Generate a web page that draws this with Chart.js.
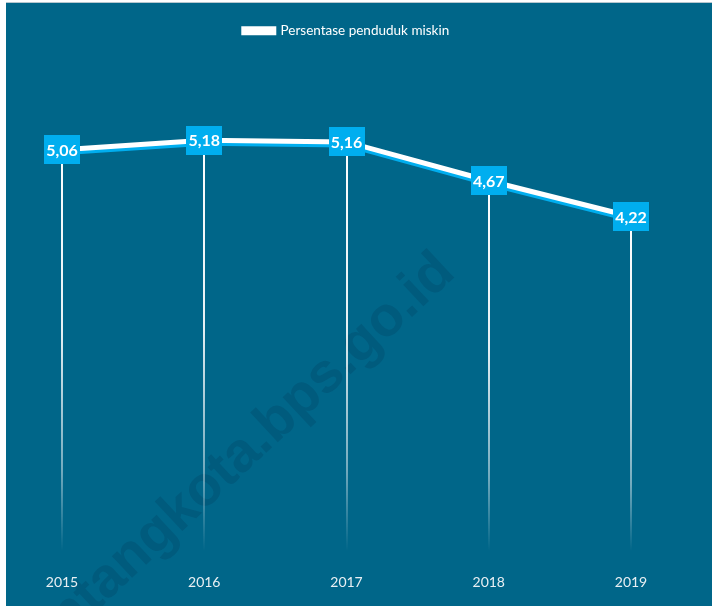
<!DOCTYPE html>
<html>
<head>
<meta charset="utf-8">
<script src="https://cdn.jsdelivr.net/npm/chart.js@4.4.1/dist/chart.umd.min.js"></script>
<style>
    html, body { margin: 0; padding: 0; background: #fff; }
    body { width: 712px; height: 606px; position: relative; overflow: hidden; }
    .topline { position: absolute; left: 6px; top: 2px; width: 706px; height: 1px; background: #b7c7cf; }
    .wrap { position: absolute; left: 6px; top: 3px; width: 706px; height: 603px; background: #006689; }
</style>
</head>
<body>
<div class="topline"></div>
<div class="wrap"><canvas id="povertyChart" width="706" height="603"></canvas></div>
<script>
// Data
const years = ['2015', '2016', '2017', '2018', '2019'];
const povertyRate = [5.06, 5.18, 5.16, 4.67, 4.22];
const seriesName = 'Persentase penduduk miskin';
const watermarkText = 'bontangkota.bps.go.id';

const fmt = v => v.toFixed(2).replace('.', ',');

// watermark behind everything
const watermark = {
    id: 'watermark',
    beforeDraw(chart) {
        const ctx = chart.ctx;
        ctx.save();
        ctx.translate(451, 272);
        ctx.rotate(-43 * Math.PI / 180);
        ctx.font = 'bold 56px "Liberation Sans", Arial, sans-serif';
        ctx.fillStyle = '#005b7d';
        ctx.textAlign = 'right';
        ctx.textBaseline = 'alphabetic';
        ctx.fillText(watermarkText, 0, 0);
        ctx.restore();
    }
};

// fading drop lines from each point to the bottom
const dropLines = {
    id: 'dropLines',
    beforeDatasetsDraw(chart) {
        const ctx = chart.ctx;
        const area = chart.chartArea;
        const meta = chart.getDatasetMeta(0);
        ctx.save();
        meta.data.forEach(pt => {
            const grad = ctx.createLinearGradient(0, pt.y, 0, area.bottom);
            grad.addColorStop(0, 'rgba(255,255,255,1)');
            grad.addColorStop(0.45, 'rgba(255,255,255,0.9)');
            grad.addColorStop(0.8, 'rgba(255,255,255,0.45)');
            grad.addColorStop(1, 'rgba(255,255,255,0)');
            ctx.strokeStyle = grad;
            ctx.lineWidth = 2;
            ctx.beginPath();
            ctx.moveTo(Math.round(pt.x), pt.y);
            ctx.lineTo(Math.round(pt.x), area.bottom);
            ctx.stroke();
        });
        ctx.restore();
    }
};

// blue shadow under the white line
const lineShadow = {
    id: 'lineShadow',
    beforeDatasetDraw(chart) {
        const ctx = chart.ctx;
        ctx.save();
        ctx.shadowColor = '#00aeef';
        ctx.shadowOffsetY = 3;
        ctx.shadowBlur = 0;
    },
    afterDatasetDraw(chart) {
        chart.ctx.restore();
    }
};

// value boxes
const valueBoxes = {
    id: 'valueBoxes',
    afterDatasetsDraw(chart) {
        const ctx = chart.ctx;
        const meta = chart.getDatasetMeta(0);
        ctx.save();
        ctx.font = 'bold 16px Lato, sans-serif';
        ctx.textAlign = 'center';
        ctx.textBaseline = 'middle';
        meta.data.forEach((pt, i) => {
            const w = 36, h = 29;
            ctx.fillStyle = '#00aeef';
            ctx.fillRect(Math.round(pt.x - w / 2), Math.round(pt.y - h / 2), w, h);
            ctx.fillStyle = '#ffffff';
            ctx.fillText(fmt(povertyRate[i]), pt.x, pt.y + 1);
        });
        ctx.restore();
    }
};

new Chart(document.getElementById('povertyChart'), {
    type: 'line',
    data: {
        labels: years,
        datasets: [{
            label: seriesName,
            data: povertyRate,
            borderColor: '#ffffff',
            backgroundColor: '#ffffff',
            borderWidth: 5,
            pointRadius: 0,
            tension: 0,
            fill: false
        }]
    },
    options: {
        responsive: false,
        animation: false,
        layout: { padding: { left: 56, right: 81, top: 7, bottom: 0 } },
        plugins: {
            legend: {
                position: 'top',
                labels: {
                    color: '#ffffff',
                    boxWidth: 30,
                    boxHeight: 4,
                    padding: 14,
                    font: { family: 'Lato', size: 13.5 }
                }
            },
            tooltip: { enabled: false }
        },
        scales: {
            x: {
                offset: false,
                grid: { display: false },
                border: { display: false },
                ticks: { color: '#e8eff3', padding: 15, font: { family: 'Lato', size: 14 } }
            },
            y: {
                display: false,
                min: 0,
                max: 6.35
            }
        }
    },
    plugins: [watermark, dropLines, lineShadow, valueBoxes]
});
</script>
</body>
</html>
